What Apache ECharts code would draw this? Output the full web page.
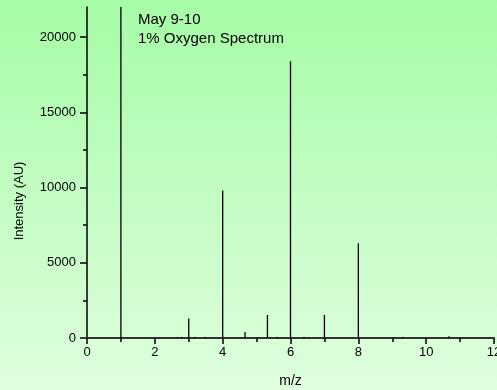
<!DOCTYPE html>
<html>
<head>
<meta charset="utf-8">
<script src="https://cdn.jsdelivr.net/npm/echarts@6/dist/echarts.min.js"></script>
<style>
html,body{margin:0;padding:0;}
body{width:497px;height:390px;background:linear-gradient(to bottom,#a6fca6 0%,#dffedf 100%);}
#c{width:497px;height:390px;}
</style>
</head>
<body>
<div id="c"></div>
<script>
const titleLines = ["May 9-10", "1% Oxygen Spectrum"];
const xName = "m/z";
const yName = "Intensity (AU)";
const peakMz = [1, 2.67, 2.79, 3, 3.19, 3.48, 4, 4.66, 5.32, 5.6, 6, 6.4, 7, 8, 9.32, 10.68];
const peakIntensity = [25000, 70, 70, 1300, 70, 70, 9800, 400, 1530, 70, 18400, 60, 1530, 6300, 60, 120];
const yMajorTicks = [0, 5000, 10000, 15000, 20000];
const yMinorTicks = [2500, 7500, 12500, 17500];

const font = "'Liberation Sans', Arial, sans-serif";
const chart = echarts.init(document.getElementById('c'), null, {renderer: 'canvas'});
chart.setOption({
  backgroundColor: 'transparent',
  animation: false,
  grid: {left: 87, right: 3, top: 7, bottom: 52, containLabel: false, outerBoundsMode: 'none'},
  graphic: [{
    type: 'text', left: 138, top: 10,
    style: {text: titleLines.join('\n'), font: '15px ' + font, fill: '#000', lineHeight: 19}
  }, {
    type: 'text', x: 19, y: 201, rotation: Math.PI / 2,
    style: {text: yName, font: '13px ' + font, fill: '#000', align: 'center', verticalAlign: 'middle'}
  }],
  xAxis: {
    type: 'value', min: 0, max: 12, interval: 2,
    name: xName, nameLocation: 'middle', nameGap: 36,
    nameTextStyle: {color: '#000', fontSize: 14, fontFamily: font},
    axisLine: {lineStyle: {color: '#333', width: 2}},
    axisTick: {length: 6, lineStyle: {color: '#000', width: 1.5}},
    minorTick: {show: true, splitNumber: 2, length: 4, lineStyle: {color: '#000', width: 1.5}},
    axisLabel: {color: '#000', fontSize: 13, fontFamily: font, margin: 8},
    splitLine: {show: false}
  },
  yAxis: [{
    type: 'value', min: 0, max: 22000, position: 'left',
    axisLine: {show: true, lineStyle: {color: '#000', width: 1.5}},
    axisTick: {show: true, length: 7, customValues: yMajorTicks, lineStyle: {color: '#000', width: 1.5}},
    axisLabel: {color: '#000', fontSize: 13, fontFamily: font, margin: 11, customValues: yMajorTicks,
                formatter: v => String(v)},
    splitLine: {show: false}
  }, {
    type: 'value', min: 0, max: 22000, position: 'left',
    axisLine: {show: false},
    axisTick: {show: true, length: 4, customValues: yMinorTicks, lineStyle: {color: '#000', width: 1.5}},
    axisLabel: {show: false},
    splitLine: {show: false}
  }],
  series: [{
    type: 'bar', clip: true, barWidth: 1.3,
    itemStyle: {color: '#000'},
    data: peakMz.map((m, i) => [m, peakIntensity[i]])
  }]
});
</script>
</body>
</html>
